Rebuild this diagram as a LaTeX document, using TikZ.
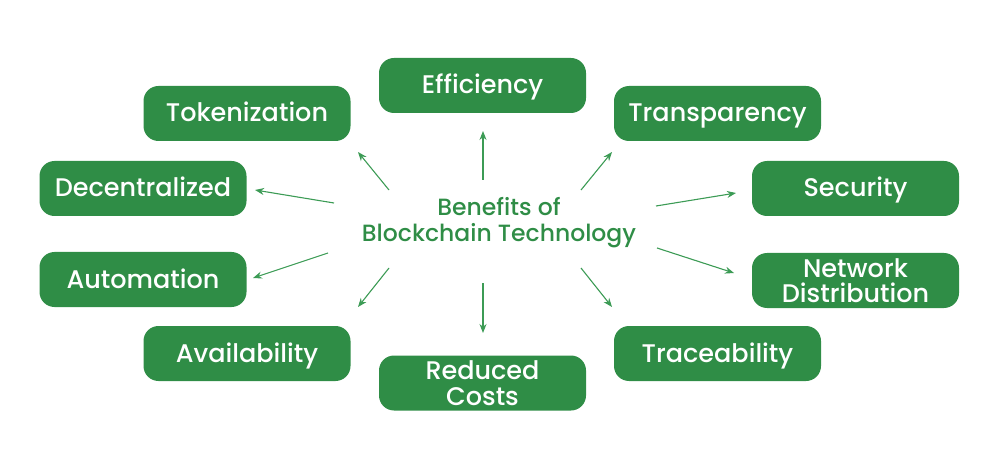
\documentclass[tikz,border=0pt]{standalone}
\usepackage{fontspec}
\setmainfont{Poppins Medium}
\usetikzlibrary{arrows.meta}
\definecolor{gfg}{RGB}{47,141,70}
\definecolor{arr}{RGB}{60,155,85}
\begin{document}
\begin{tikzpicture}[x=1pt,y=-1pt,
  benefit/.style={draw=none,fill=gfg,rounded corners=15pt,minimum width=207pt,minimum height=55pt,
    text=white,font=\fontsize{25.5}{25.5}\selectfont,align=center,inner sep=0pt},
  oneline/.style={benefit,text height=21pt,text depth=4pt},
  link/.style={draw=arr,line width=1.1pt,-{Stealth[length=9pt,width=7pt]}}]
\useasboundingbox (0,0) rectangle (998,470);
\node[oneline] (eff) at (482.5,85.5) {Efficiency};
\node[oneline] (tok) at (247,113.5) {Tokenization};
\node[oneline] (tra) at (717.5,113.5) {Transparency};
\node[oneline] (dec) at (143,188.5) {Decentralized};
\node[oneline] (sec) at (855.5,188.5) {Security};
\node[oneline] (aut) at (143,279.5) {Automation};
\node[benefit] (net) at (855.5,280.5) {Network\\Distribution};
\node[oneline] (ava) at (247,353.5) {Availability};
\node[benefit] (red) at (482.5,383) {Reduced\\Costs};
\node[oneline] (trc) at (717.5,353.5) {Traceability};
\node[text=gfg,font=\fontsize{23.5}{26}\selectfont,align=center] (ctr) at (499,223) {Benefits of\\Blockchain Technology};
% arrow ends
\coordinate (s1) at (483,180); \coordinate (e1) at (483,131);
\coordinate (s2) at (389,190); \coordinate (e2) at (358,152);
\coordinate (s3) at (581,190); \coordinate (e3) at (612,152);
\coordinate (s4) at (389,268); \coordinate (e4) at (358,307);
\coordinate (s5) at (483,283); \coordinate (e5) at (483,333);
\coordinate (s6) at (581,268); \coordinate (e6) at (612,307);
\coordinate (s7) at (334,203); \coordinate (e7) at (255,190);
\coordinate (s8) at (328,253); \coordinate (e8) at (253,278);
\coordinate (s9) at (656,206); \coordinate (e9) at (736,193);
\coordinate (s10) at (657,248); \coordinate (e10) at (734,273);
\foreach \i in {1,...,10} {\draw[link] (s\i) -- (e\i);}
\end{tikzpicture}
\end{document}
